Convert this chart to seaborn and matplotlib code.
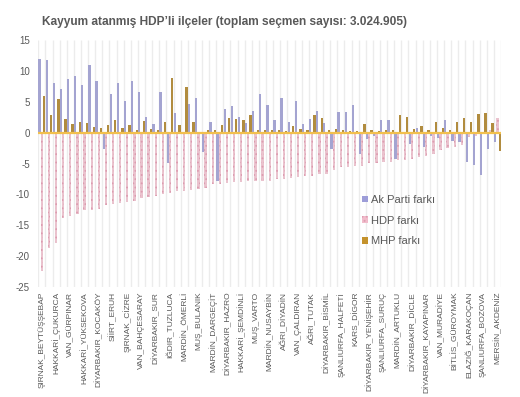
import matplotlib
matplotlib.use("Agg")
import matplotlib.pyplot as plt
from matplotlib.patches import Patch
import seaborn as sns
import pandas as pd
from matplotlib import font_manager

# ---- data ----
ak_parti = [12.0, 11.7, 8.0, 7.0, 8.65, 9.1, 7.7, 10.9, 8.4, -2.7,
            6.2, 8.0, 5.1, 8.3, 6.6, 2.6, 1.4, 6.5, -4.9, 3.1,
            0.0, 4.6, 5.55, -3.2, 1.8, -7.9, 3.75, 4.25, 2.55, 1.6,
            3.5, 6.2, 4.4, 2.1, 5.65, 1.8, 5.2, 1.35, 2.2, 3.5,
            1.6, -2.7, 3.3, 3.4, 4.45, -3.5, -1.0, -0.5, 2.1, 2.1,
            -4.2, 0.0, -1.8, 0.75, -2.4, -0.6, -0.8, 2.1, -1.3, -1.5,
            -4.8, -5.2, -6.9, -2.7, -1.5]
hdp = [-22.4, -18.7, -17.9, -13.8, -13.55, -13.2, -12.5, -12.5, -12.3, -11.7,
       -11.5, -11.4, -11.2, -11.05, -10.6, -10.5, -10.2, -9.95, -9.7, -9.45,
       -9.4, -9.3, -9.2, -9.0, -8.4, -8.3, -8.1, -8.0, -7.95, -7.9,
       -7.85, -7.8, -7.8, -7.55, -7.45, -7.35, -7.15, -7.0, -6.95, -6.75,
       -6.7, -6.05, -5.5, -5.5, -5.45, -5.4, -4.95, -4.85, -4.75, -4.7,
       -4.5, -4.4, -4.3, -3.95, -3.75, -3.5, -2.8, -2.55, -2.35, -1.95,
       -0.7, -0.5, -0.3, 0.45, 2.4]
mhp = [6.0, 2.8, 5.5, 2.2, 1.35, 1.75, 1.5, 0.85, 0.75, 1.3,
       2.05, 0.8, 1.3, 0.35, 1.9, 0.65, 0.5, 1.75, 8.9, 1.3,
       7.35, 1.8, 0.0, 0.35, 0.5, 1.3, 2.4, 2.2, 2.1, 2.9,
       0.4, 0.35, 0.35, 0.35, 0.3, 1.1, 0.65, 0.5, 2.8, 2.3,
       0.5, 0.6, 0.35, 0.3, 0.3, 1.4, 0.35, 0.3, 0.35, 0.5,
       2.9, 2.55, 0.55, 1.0, 0.35, 1.75, 0.7, 0.5, 1.7, 2.3,
       1.8, 3.0, 3.25, 1.6, -3.0]
tick_labels = ["ŞIRNAK_BEYTÜŞŞEBAP", "HAKKARİ_ÇUKURCA", "VAN_GÜRPINAR", "HAKKARİ_YÜKSEKOVA",
               "DİYARBAKIR_KOCAKÖY", "SİİRT_ERUH", "ŞIRNAK_CİZRE", "VAN_BAHÇESARAY",
               "DİYARBAKIR_SUR", "IĞDIR_TUZLUCA", "MARDİN_ÖMERLİ", "MUŞ_BULANIK",
               "MARDİN_DARGEÇİT", "DİYARBAKIR_HAZRO", "HAKKARİ_ŞEMDİNLİ", "MUŞ_VARTO",
               "MARDİN_NUSAYBİN", "AĞRI_DİYADİN", "VAN_ÇALDIRAN", "AĞRI_TUTAK",
               "DİYARBAKIR_BİSMİL", "ŞANLIURFA_HALFETİ", "KARS_DİGOR", "DİYARBAKIR_YENİŞEHİR",
               "ŞANLIURFA_SURUÇ", "MARDİN_ARTUKLU", "DİYARBAKIR_DİCLE", "DİYARBAKIR_KAYAPINAR",
               "VAN_MURADİYE", "BİTLİS_GÜROYMAK", "ELAZIĞ_KARAKOÇAN", "ŞANLIURFA_BOZOVA",
               "MERSİN_AKDENİZ"]
series = ["Ak Parti farkı", "HDP farkı", "MHP farkı"]
title = "Kayyum atanmış HDP’li ilçeler (toplam seçmen sayısı: 3.024.905)"

colors = ["#9d9dd8", "#f1bccb", "#c4922c"]
TXT = "#595959"

n = len(hdp)
df = pd.DataFrame({
    "idx": list(range(n)) * 3,
    "seri": [series[0]] * n + [series[1]] * n + [series[2]] * n,
    "fark": ak_parti + hdp + mhp,
})

sns.set_style("white")
names = {f.name for f in font_manager.fontManager.ttflist}
fam = "Liberation Sans" if "Liberation Sans" in names else "DejaVu Sans"
plt.rcParams["font.family"] = [fam, "DejaVu Sans"]
plt.rcParams["axes.unicode_minus"] = False
plt.rcParams["hatch.linewidth"] = 0.8

fig = plt.figure(figsize=(5.2, 3.97), dpi=100)
ax = fig.add_axes([38.3 / 520, 1 - 287 / 397, (501 - 38.3) / 520, (287 - 40) / 397])

# vertical category gridlines
ax.vlines([i - 0.5 for i in range(n + 1)], -25, 15, colors="#ececec", linewidth=1.0, zorder=1)

sns.barplot(data=df, x="idx", y="fark", hue="seri", hue_order=series,
            palette=colors, width=0.96, gap=0, errorbar=None, legend=False,
            linewidth=0, ax=ax, zorder=3)

# hatch HDP bars
for bar in ax.containers[1]:
    bar.set_hatch("....")
    bar.set_edgecolor("#dd9cb0")
    bar.set_linewidth(0)

ax.set_xlim(-0.5, n - 0.5)
ax.set_ylim(-25, 15)
ax.set_yticks(range(-25, 16, 5))
ax.set_yticklabels([str(v) for v in range(-25, 16, 5)], color=TXT, fontsize=7)
ax.set_xticks(range(0, n, 2))
ax.set_xticklabels(tick_labels, rotation=90, fontsize=6.0, color=TXT, va="top", ha="center")
ax.tick_params(axis="both", length=0)
ax.tick_params(axis="y", pad=6)
ax.tick_params(axis="x", pad=3.5)
ax.grid(False)
for s in ax.spines.values():
    s.set_visible(False)
ax.axhline(0, color="#f2c04e", linewidth=1.6, zorder=4)
ax.set_xlabel("")
ax.set_ylabel("")

fig.text(42 / 520, 1 - 22 / 397, title, fontsize=8.6, fontweight="bold", color=TXT,
         ha="left", va="center")

handles = [Patch(facecolor=colors[0], linewidth=0),
           Patch(facecolor=colors[1], edgecolor="#dd9cb0", hatch="....", linewidth=0),
           Patch(facecolor=colors[2], linewidth=0)]
fig.legend(handles, series, loc="upper left", bbox_to_anchor=(362 / 520, 1 - 195 / 397),
           frameon=False, fontsize=8, labelcolor=TXT, handlelength=0.55, handleheight=0.55,
           handletextpad=0.3, labelspacing=0.95, borderpad=0, borderaxespad=0)

fig.savefig("out.png", dpi=100)
